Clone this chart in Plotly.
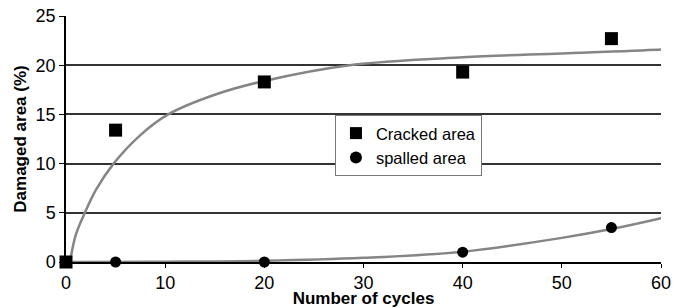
import plotly.graph_objects as go

# Data points
cycles = [0, 5, 20, 40, 55]
cracked = [0, 13.4, 18.3, 19.3, 22.7]
spalled = [0, 0, 0, 1.0, 3.5]

# Trend curves
crack_trend_x = [0.4, 1, 1.9, 3, 4.8, 7.5, 10.3, 15, 20, 28.6, 40, 50, 60, 60.5]
crack_trend_y = [0, 2.8, 5, 7.3, 10, 12.9, 15, 17.0, 18.4, 20, 20.8, 21.2, 21.6, 21.65]
spall_trend_x = [0, 10, 20, 30, 40, 50, 55, 60, 61.2]
spall_trend_y = [0, 0.03, 0.12, 0.42, 1.05, 2.45, 3.35, 4.45, 4.75]

x_ticks = [0, 10, 20, 30, 40, 50, 60]
y_ticks = [0, 5, 10, 15, 20, 25]

fig = go.Figure()
curve = dict(color="#858585", width=2.5, shape="spline")
fig.add_trace(go.Scatter(x=crack_trend_x, y=crack_trend_y, mode="lines", line=curve,
                         showlegend=False, hoverinfo="skip", cliponaxis=False))
fig.add_trace(go.Scatter(x=spall_trend_x, y=spall_trend_y, mode="lines", line=curve,
                         showlegend=False, hoverinfo="skip", cliponaxis=False))
fig.add_trace(go.Scatter(x=cycles, y=cracked, mode="markers", name="Cracked area",
                         marker=dict(symbol="square", size=13, color="black"), cliponaxis=False))
fig.add_trace(go.Scatter(x=cycles, y=spalled, mode="markers", name="spalled area",
                         marker=dict(symbol="circle", size=11, color="black"), cliponaxis=False))

font = "Liberation Sans, Arial, sans-serif"
fig.update_layout(
    width=675, height=308,
    margin=dict(l=66, r=14, t=16, b=46, autoexpand=False),
    paper_bgcolor="white", plot_bgcolor="white",
    font=dict(family=font, color="black", size=18),
    legend=dict(x=0.452, y=0.598, xanchor="left", yanchor="top",
                bgcolor="white", bordercolor="#777", borderwidth=1,
                font=dict(size=16.5), tracegroupgap=0, itemwidth=30,
                itemsizing="constant"),
)
fig.update_xaxes(range=[0, 60], tickvals=x_ticks, showgrid=False, zeroline=False,
                 showline=True, linecolor="black", linewidth=1.5,
                 ticks="outside", ticklen=4, tickcolor="black", automargin=False,
                 tickfont=dict(size=18), ticklabeloverflow="allow",
                 title=dict(text="<b>Number of cycles</b>", font=dict(size=17), standoff=2))
fig.update_yaxes(range=[0, 25], tickvals=y_ticks, showgrid=True, gridcolor="#333",
                 gridwidth=1.5, zeroline=False,
                 showline=True, linecolor="black", linewidth=1.5,
                 ticks="outside", ticklen=5, tickcolor="black", automargin=False,
                 tickfont=dict(size=18), ticklabeloverflow="allow",
                 title=dict(text="<b>Damaged area (%)</b>", font=dict(size=17), standoff=5))

# remove the default page margin so the 675x308 figure fills the window exactly
fig.write_html("out.html", config={"displayModeBar": False},
               post_script="document.body.style.margin='0';")
